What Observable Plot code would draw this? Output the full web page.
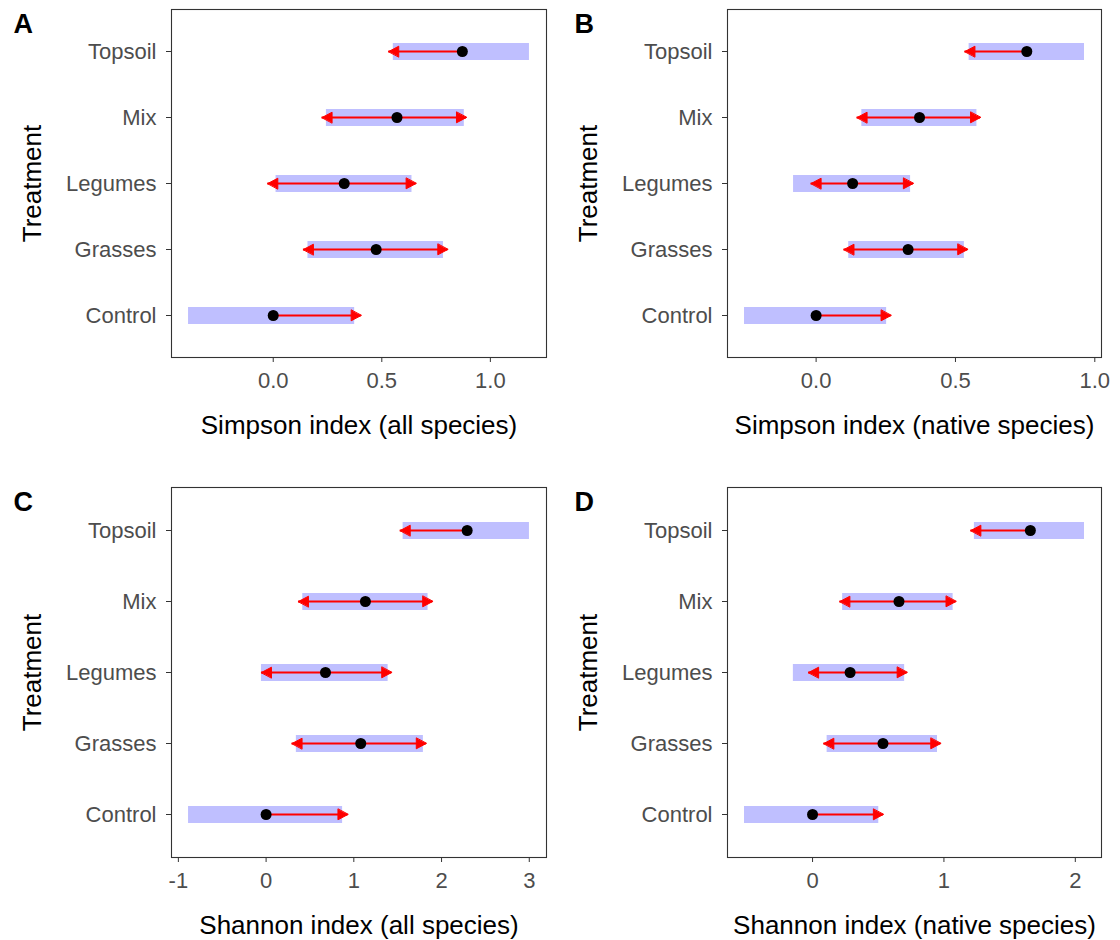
<!DOCTYPE html>
<html>
<head>
<meta charset="utf-8">
<script src="https://cdn.jsdelivr.net/npm/d3@7"></script>
<script src="https://cdn.jsdelivr.net/npm/@observablehq/plot@0.6"></script>
<style>
  html, body { margin: 0; padding: 0; background: #fff; }
  #chart { position: relative; width: 1120px; height: 940px; background: #fff; }
  #chart svg { position: absolute; }
</style>
</head>
<body>
<div id="chart"></div>
<script>
// ---- Data ----
const treatments = ["Control", "Grasses", "Legumes", "Mix", "Topsoil"];
const yOrder = ["Topsoil", "Mix", "Legumes", "Grasses", "Control"];

// A: Simpson index (all species)
const simpAllEst   = [0.000, 0.474, 0.327, 0.570, 0.871];
const simpAllLower = [-0.390, 0.160, 0.013, 0.245, 0.553];
const simpAllUpper = [0.375, 0.784, 0.639, 0.880, 1.180];
const simpAllLeft  = [null, 0.139, -0.025, 0.225, 0.532];
const simpAllRight = [0.405, 0.804, 0.658, 0.890, null];

// B: Simpson index (native species)
const simpNatEst   = [0.000, 0.330, 0.131, 0.371, 0.756];
const simpNatLower = [-0.257, 0.117, -0.081, 0.164, 0.549];
const simpNatUpper = [0.253, 0.532, 0.339, 0.577, 0.963];
const simpNatLeft  = [null, 0.100, -0.018, 0.147, 0.534];
const simpNatRight = [0.269, 0.544, 0.349, 0.590, null];

// C: Shannon index (all species)
const shanAllEst   = [0.000, 1.079, 0.677, 1.132, 2.292];
const shanAllLower = [-0.884, 0.345, -0.053, 0.418, 1.562];
const shanAllUpper = [0.872, 1.793, 1.391, 1.846, 3.002];
const shanAllLeft  = [null, 0.296, -0.053, 0.369, 1.529];
const shanAllRight = [0.933, 1.826, 1.432, 1.899, null];

// D: Shannon index (native species)
const shanNatEst   = [0.000, 0.536, 0.286, 0.658, 1.658];
const shanNatLower = [-0.518, 0.111, -0.146, 0.229, 1.232];
const shanNatUpper = [0.504, 0.951, 0.701, 1.070, 2.070];
const shanNatLeft  = [null, 0.086, -0.030, 0.208, 1.205];
const shanNatRight = [0.539, 0.976, 0.720, 1.092, null];

const FONT = "'Liberation Sans', Arial, Helvetica, sans-serif";

const triangle = {
  draw(context, l, r) {
    context.moveTo(0, -l);
    context.lineTo(r, 0);
    context.lineTo(-r, 0);
    context.closePath();
  }
};

function panel(cfg) {
  const rows = treatments.map((t, i) => ({
    t, est: cfg.est[i], lo: cfg.lo[i], hi: cfg.hi[i], l: cfg.left[i], r: cfg.right[i]
  }));
  const all = rows.flatMap(d => [d.est, d.lo, d.hi, d.l, d.r]).filter(v => v != null);
  const mn = d3.min(all), mx = d3.max(all), pad = (mx - mn) * 0.05;
  const leftRows = rows.filter(d => d.l != null);
  const rightRows = rows.filter(d => d.r != null);
  const svg = Plot.plot({
    width: 560, height: 470,
    marginLeft: cfg.ml, marginRight: cfg.mr, marginTop: cfg.mt, marginBottom: cfg.mb,
    style: { fontFamily: FONT, background: "transparent", overflow: "visible" },
    x: { domain: [mn - pad, mx + pad] },
    y: { type: "point", domain: yOrder, padding: 0.6 },
    marks: [
      Plot.ruleY(rows, { y: "t", x1: "lo", x2: "hi", stroke: "#bfbfff", strokeWidth: 17 }),
      Plot.ruleY(leftRows, { y: "t", x1: "est", x2: "l", stroke: "#ff0000", strokeWidth: 2 }),
      Plot.ruleY(rightRows, { y: "t", x1: "est", x2: "r", stroke: "#ff0000", strokeWidth: 2 }),
      Plot.vector(leftRows, { x: "l", y: "t", rotate: -90, length: 10, r: 5.3, anchor: "end",
        shape: triangle, fill: "#ff0000", stroke: "#ff0000", strokeWidth: 1 }),
      Plot.vector(rightRows, { x: "r", y: "t", rotate: 90, length: 10, r: 5.3, anchor: "end",
        shape: triangle, fill: "#ff0000", stroke: "#ff0000", strokeWidth: 1 }),
      Plot.dot(rows, { x: "est", y: "t", r: 5.5, fill: "#000000", stroke: "none" }),
      Plot.frame({ stroke: "#333333", strokeWidth: 1.1 }),
      Plot.axisY({ tickSize: 5, tickPadding: 10, fontSize: 22, label: null,
        stroke: "#333333", fill: "#4d4d4d" }),
      Plot.axisX({ ticks: cfg.ticks, tickFormat: cfg.fmt, tickSize: 5, tickPadding: 10,
        fontSize: 22, label: null, stroke: "#333333", fill: "#4d4d4d" }),
      Plot.text([cfg.title], { frameAnchor: "bottom", dy: 76, lineAnchor: "bottom",
        fontSize: 26, fill: "#000000" }),
      Plot.text(["Treatment"], { frameAnchor: "left", rotate: -90, dx: -131, lineAnchor: "bottom",
        textAnchor: "middle", fontSize: 26, fill: "#000000" }),
      Plot.text([cfg.tag], { frameAnchor: "top-left", dx: cfg.tagDx, dy: 23, lineAnchor: "bottom",
        textAnchor: "start", fontSize: 27, fontWeight: "bold", fill: "#000000" })
    ]
  });
  svg.style.left = cfg.left0 + "px";
  svg.style.top = cfg.top0 + "px";
  return svg;
}

const chart = document.getElementById("chart");
const fmt1 = d3.format(".1f");
const fmt0 = d => d3.format("d")(d).replace("\u2212", "-");

chart.appendChild(panel({
  est: simpAllEst, lo: simpAllLower, hi: simpAllUpper, left: simpAllLeft, right: simpAllRight,
  ticks: [0, 0.5, 1.0], fmt: fmt1, title: "Simpson index (all species)", tag: "A",
  ml: 171, mr: 14, mt: 9, mb: 113, tagDx: -158, left0: 0, top0: 0
}));
chart.appendChild(panel({
  est: simpNatEst, lo: simpNatLower, hi: simpNatUpper, left: simpNatLeft, right: simpNatRight,
  ticks: [0, 0.5, 1.0], fmt: fmt1, title: "Simpson index (native species)", tag: "B",
  ml: 167, mr: 19, mt: 9, mb: 113, tagDx: -153, left0: 560, top0: 0
}));
chart.appendChild(panel({
  est: shanAllEst, lo: shanAllLower, hi: shanAllUpper, left: shanAllLeft, right: shanAllRight,
  ticks: [-1, 0, 1, 2, 3], fmt: fmt0, title: "Shannon index (all species)", tag: "C",
  ml: 171, mr: 14, mt: 17, mb: 83, tagDx: -158, left0: 0, top0: 470
}));
chart.appendChild(panel({
  est: shanNatEst, lo: shanNatLower, hi: shanNatUpper, left: shanNatLeft, right: shanNatRight,
  ticks: [0, 1, 2], fmt: fmt0, title: "Shannon index (native species)", tag: "D",
  ml: 167, mr: 19, mt: 17, mb: 83, tagDx: -153, left0: 560, top0: 470
}));
</script>
</body>
</html>
